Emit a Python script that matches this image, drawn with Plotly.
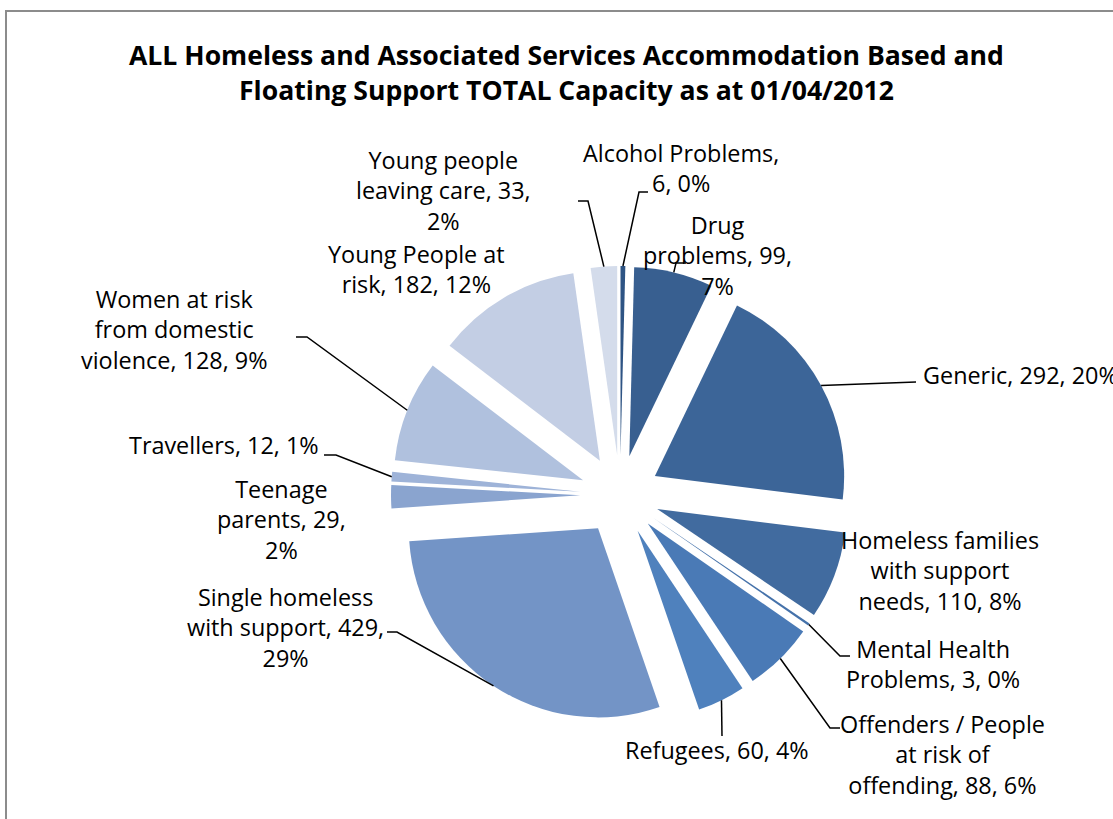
import math
import textwrap
import plotly.graph_objects as go

# --- data -------------------------------------------------------------
categories = [
    "Alcohol Problems",
    "Drug problems",
    "Generic",
    "Homeless families with support needs",
    "Mental Health Problems",
    "Offenders / People at risk of offending",
    "Refugees",
    "Single homeless with support",
    "Teenage parents",
    "Travellers",
    "Women at risk from domestic violence",
    "Young People at risk",
    "Young people leaving care",
]
capacity = [6, 99, 292, 110, 3, 88, 60, 429, 29, 12, 128, 182, 33]
share_labels = ["0%", "7%", "20%", "8%", "0%", "6%", "4%", "29%", "2%", "1%", "9%", "12%", "2%"]

slice_colors = [
    "#2E5484", "#385F90", "#3C6598", "#416B9F", "#4572AA", "#4A7AB6", "#4F81BD",
    "#7394C6", "#8AA4CF", "#9EB3D8", "#B0C1DE", "#C3CEE4", "#D4DCEB",
]

# --- figure geometry (pixels) ----------------------------------------
W, H = 1113, 819
PIE_CX, PIE_CY = 620, 495          # pie centre
PIE_HALF = 229                     # half-size of pie domain
PULL = 0.21                        # explosion of every slice

# label placement: wrap width, text anchor, leader-line elbow points
label_layout = [
    dict(wrap=17, pos=(681, 168), anchor="center", leader=[(639, 192), (648, 192)]),
    dict(wrap=13, pos=(717, 255), anchor="center", leader=[(676, 263), (686, 263)]),
    dict(wrap=40, pos=(921, 375), anchor="left", leader=[(916, 382)]),
    dict(wrap=17, pos=(940, 570), anchor="center", leader=None),
    dict(wrap=15, pos=(933, 664), anchor="center", leader=[(840, 656), (850, 656)]),
    dict(wrap=18, pos=(942, 754), anchor="center", leader=[(830, 728), (840, 728)]),
    dict(wrap=40, pos=(717, 750), anchor="center", leader=[(722, 736)]),
    dict(wrap=18, pos=(285, 627), anchor="center", leader=[(397, 632), (387, 632)]),
    dict(wrap=12, pos=(281, 519), anchor="center", leader=None),
    dict(wrap=40, pos=(224, 445), anchor="center", leader=[(336, 455), (324, 455)]),
    dict(wrap=17, pos=(174, 329), anchor="center", leader=[(307, 337), (296, 337)]),
    dict(wrap=15, pos=(416, 269), anchor="center", leader=None),
    dict(wrap=17, pos=(443, 190), anchor="center", leader=[(588, 201), (578, 201)]),
]

FONT = "Open Sans, Lato, sans-serif"
LABEL_SIZE = 23.4
TITLE_SIZE = 26.6


def px(x):
    return x / W


def py(y):
    return 1 - y / H


fig = go.Figure(
    go.Pie(
        labels=categories,
        values=capacity,
        sort=False,
        direction="clockwise",
        rotation=0,
        pull=[PULL] * len(capacity),
        marker=dict(colors=slice_colors, line=dict(width=0)),
        textinfo="none",
        hoverinfo="label+value+percent",
        showlegend=False,
        domain=dict(
            x=[px(PIE_CX - PIE_HALF), px(PIE_CX + PIE_HALF)],
            y=[py(PIE_CY + PIE_HALF), py(PIE_CY - PIE_HALF)],
        ),
    )
)

# data labels with leader lines from the outer edge of each exploded slice
total = sum(capacity)
cum = 0
annotations = []
shapes = []
for name, val, share, lay in zip(categories, capacity, share_labels, label_layout):
    mid = (cum + val / 2) / total * 2 * math.pi
    cum += val
    ax = PIE_CX + PIE_HALF * math.sin(mid)
    ay = PIE_CY - PIE_HALF * math.cos(mid)

    text = "<br>".join(textwrap.wrap(f"{name}, {val}, {share}", lay["wrap"]))
    tx, ty = lay["pos"]
    annotations.append(dict(
        x=px(tx), y=py(ty), xref="paper", yref="paper",
        text=text, showarrow=False, align="center",
        xanchor=lay["anchor"], yanchor="middle",
        font=dict(family=FONT, size=LABEL_SIZE, color="#000000"),
    ))
    if lay["leader"]:
        pts = [(ax, ay)] + lay["leader"]
        path = "M " + " L ".join(f"{px(x):.5f},{py(y):.5f}" for x, y in pts)
        shapes.append(dict(type="path", xref="paper", yref="paper", path=path,
                           line=dict(color="#000000", width=1.5)))

# chart-area border
shapes.append(dict(type="rect", xref="paper", yref="paper",
                   x0=px(6), x1=px(W + 20), y0=py(H + 20), y1=py(11),
                   line=dict(color="#8C8C8C", width=2), fillcolor="rgba(0,0,0,0)",
                   layer="below"))

annotations.append(dict(
    x=px(566), y=py(72), xref="paper", yref="paper", showarrow=False,
    text="<b>ALL Homeless and Associated Services Accommodation Based and<br>"
         "Floating Support TOTAL Capacity as at 01/04/2012</b>",
    align="center", xanchor="center", yanchor="middle",
    font=dict(family=FONT, size=TITLE_SIZE, color="#000000"),
))

fig.update_layout(
    width=W, height=H,
    margin=dict(l=0, r=0, t=0, b=0),
    paper_bgcolor="#FFFFFF",
    plot_bgcolor="#FFFFFF",
    annotations=annotations,
    shapes=shapes,
)

fig.write_html("out.html")
